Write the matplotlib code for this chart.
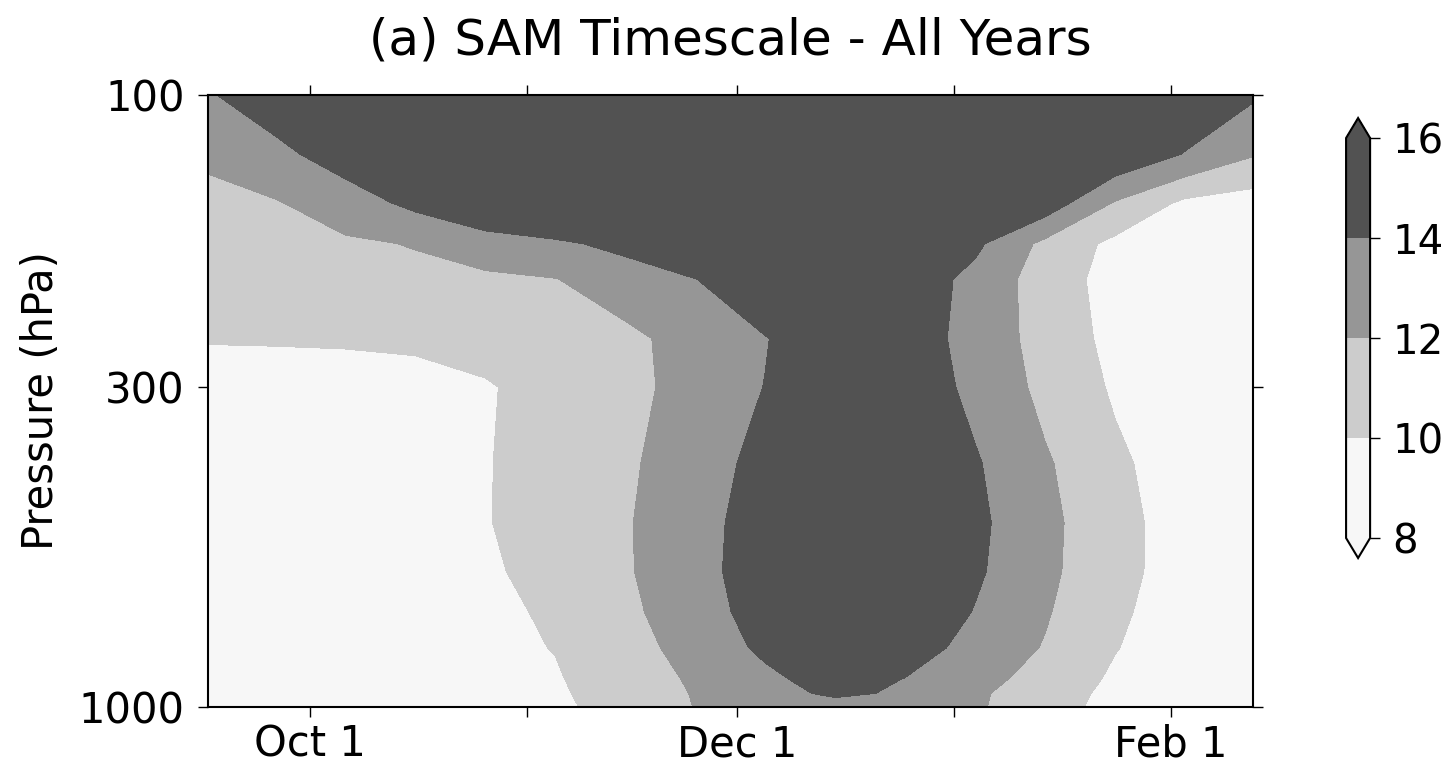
import numpy as np
import matplotlib
matplotlib.use('Agg')
import matplotlib.pyplot as plt
from matplotlib.colors import ListedColormap, BoundaryNorm

# days since Oct 1
days = [-15, -5, 5, 15, 25, 35, 45, 55, 65, 75, 85, 95, 105, 115, 125, 135]
pressure = [100, 125, 150, 175, 200, 250, 300, 400, 500, 600, 700, 800, 900, 950, 1000]

# SAM e-folding timescale (days), rows follow pressure
timescale = [
    [13.8, 15.0, 16.5, 17.0, 17.0, 17.0, 17.0, 17.0, 17.0, 17.0, 17.0, 17.0, 17.0, 16.5, 15.5, 14.2],
    [12.4, 13.5, 14.9, 16.5, 17.0, 17.0, 17.0, 17.0, 17.0, 17.0, 17.0, 17.0, 17.0, 15.6, 13.9, 12.1],
    [11.3, 11.86, 13.04, 14.5, 16.3, 17.0, 17.0, 17.0, 17.0, 17.0, 17.0, 16.5, 15.2, 11.85, 9.6, 9.0],
    [11.0, 11.35, 11.7, 12.1, 12.86, 13.6, 14.6, 16.6, 17.0, 17.0, 17.0, 14.4, 11.5, 9.5, 9.0, 8.8],
    [10.8, 11.06, 11.3, 11.5, 11.7, 11.95, 12.86, 13.95, 15.7, 17.0, 15.3, 13.4, 11.07, 9.24, 8.9, 8.7],
    [10.1, 10.12, 10.15, 10.2, 10.6, 11.1, 11.6, 12.65, 13.9, 15.6, 15.1, 13.27, 11.25, 9.44, 9.0, 8.8],
    [9.2, 9.3, 9.4, 9.6, 9.85, 10.65, 11.5, 12.64, 14.05, 15.8, 15.3, 13.5, 11.5, 9.75, 9.2, 9.0],
    [9.0, 9.2, 9.4, 9.6, 9.9, 10.78, 11.7, 13.04, 14.65, 16.0, 16.0, 14.2, 12.23, 10.4, 8.9, 8.7],
    [8.9, 9.1, 9.3, 9.55, 9.9, 10.85, 11.83, 13.29, 14.95, 16.5, 16.5, 14.45, 12.5, 10.65, 9.1, 8.8],
    [8.9, 9.1, 9.3, 9.5, 9.7, 10.7, 11.8, 13.33, 15.05, 16.5, 16.5, 14.3, 12.43, 10.63, 9.1, 8.8],
    [8.9, 9.1, 9.3, 9.4, 9.5, 10.3, 11.58, 13.1, 14.85, 16.2, 15.65, 13.9, 12.17, 10.38, 8.9, 8.8],
    [8.9, 9.0, 9.2, 9.4, 9.6, 10.05, 11.29, 12.7, 14.4, 15.5, 14.95, 13.34, 11.87, 10.08, 8.9, 8.8],
    [8.8, 9.0, 9.1, 9.3, 9.55, 9.85, 10.97, 12.27, 13.55, 14.9, 13.95, 12.67, 11.26, 9.7, 9.0, 8.8],
    [8.8, 8.95, 9.05, 9.25, 9.45, 9.75, 10.82, 12.12, 13.4, 14.3, 13.78, 12.3, 10.96, 9.5, 9.0, 8.8],
    [8.8, 8.9, 9.0, 9.2, 9.4, 9.65, 10.7, 12.05, 12.95, 13.3, 13.1, 12.25, 10.8, 9.36, 9.0, 8.8],
]

levels = [8, 10, 12, 14, 16]
month_ticks = [0, 31, 61, 92, 123]
month_labels = ['Oct 1', '', 'Dec 1', '', 'Feb 1']
p_ticks = [100, 300, 1000]

plt.rcParams['font.family'] = 'DejaVu Sans'
plt.rcParams['font.size'] = 30

cmap = ListedColormap(['#f7f7f7', '#cccccc', '#969696', '#525252'])
cmap.set_under('#f7f7f7')
cmap.set_over('#525252')
norm = BoundaryNorm(levels, cmap.N)

fig = plt.figure(figsize=(14.56, 7.68), dpi=100)
ax = fig.add_axes([0.1429, 0.0794, 0.7177, 0.7969])
cs = ax.contourf(days, pressure, np.array(timescale), levels=levels,
                 cmap=cmap, norm=norm, extend='both')

ax.set_yscale('log')
ax.set_ylim(1000, 100)
ax.set_xlim(-14.6, 134.7)
ax.set_yticks(p_ticks)
ax.set_yticklabels([str(p) for p in p_ticks])
ax.yaxis.set_minor_locator(matplotlib.ticker.NullLocator())
ax.set_xticks(month_ticks)
ax.set_xticklabels(month_labels)
ax.tick_params(direction='out', length=7, width=1, top=True, right=True)
ax.tick_params(axis='y', pad=10)
ax.tick_params(axis='x', pad=5)
for s in ax.spines.values():
    s.set_linewidth(1.5)
ax.set_ylabel('Pressure (hPa)', labelpad=12)
ax.set_title('(a) SAM Timescale - All Years', pad=29)

cax = fig.add_axes([0.9245, 0.2734, 0.0165, 0.5729])
cb = fig.colorbar(cs, cax=cax, ticks=levels)
cb.outline.set_linewidth(1.5)
cax.tick_params(direction='out', length=7, width=1, pad=9, labelsize=29)

fig.savefig('out.png', dpi=100)
